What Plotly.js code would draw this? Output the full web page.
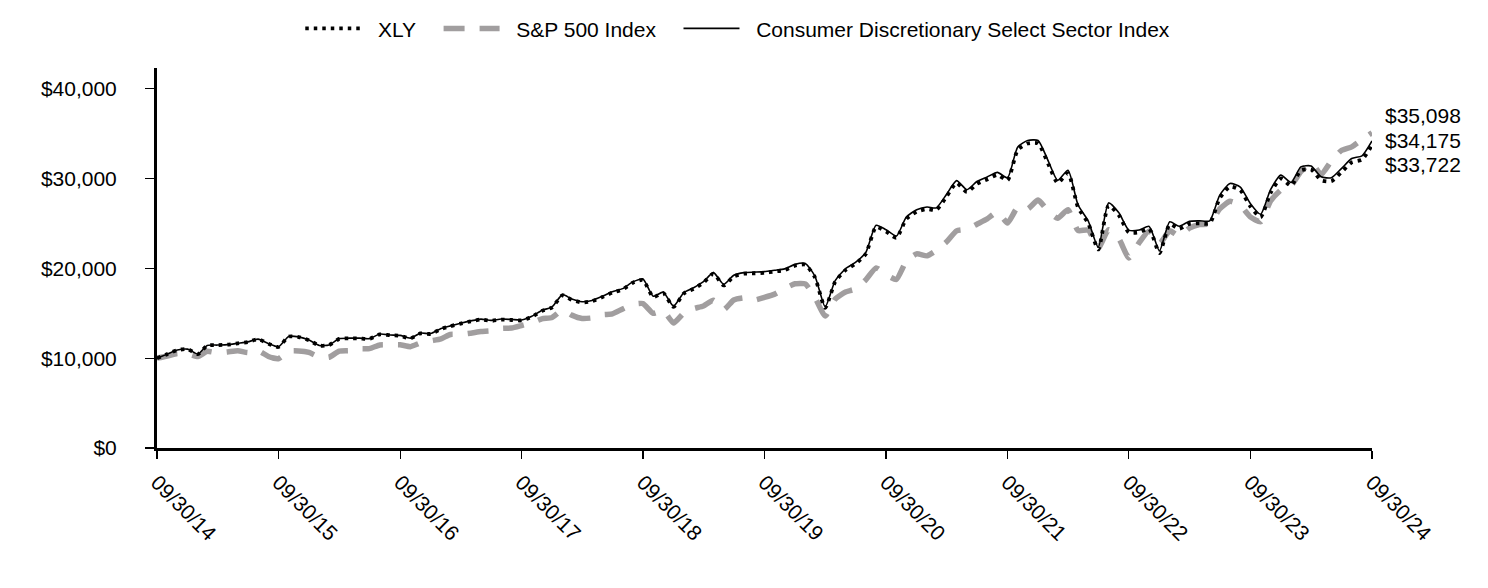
<!DOCTYPE html>
<html>
<head>
<meta charset="utf-8">
<script src="https://cdn.plot.ly/plotly-3.0.1.min.js"></script>
<style>html,body{margin:0;padding:0;background:#fff;}#chart{width:1488px;height:588px;}</style>
</head>
<body>
<div id="chart"></div>
<script>
// Month-end dates from 09/30/2014 to 09/30/2024 (121 monthly observations)
const startYear = 2014, startMonth = 9, monthCount = 121;

const tickDates = ["2014-09-30","2015-09-30","2016-09-30","2017-09-30","2018-09-30","2019-09-30","2020-09-30","2021-09-30","2022-09-30","2023-09-30","2024-09-30"];
const tickLabels = ["09/30/14","09/30/15","09/30/16","09/30/17","09/30/18","09/30/19","09/30/20","09/30/21","09/30/22","09/30/23","09/30/24"];

const seriesNames = ["XLY", "S&P 500 Index", "Consumer Discretionary Select Sector Index"];

const xlyValues = [
10000,10450,10900,11000,10450,11400,11450,11500,11650,11800,12100,11600,
11250,12400,12350,12000,11400,11450,12150,12200,12200,12150,12650,12550,
12500,12200,12750,12700,13250,13550,13850,14100,14300,14150,14300,14250,
14200,14600,15250,15650,17000,16500,16200,16350,16800,17300,17650,18400,
18700,16800,17250,15700,17200,17700,18400,19400,18100,19100,19400,19450,
19500,19650,19800,20300,20400,19000,15600,18500,19800,20500,21600,24600,
24100,23400,25500,26300,26600,26500,28000,29500,28500,29400,29900,30400,
29800,33200,33900,33900,31600,29500,30600,26800,25000,22100,27000,25900,
24000,24000,24400,21700,24900,24400,24950,25000,25000,27800,29100,28700,
26900,25700,28400,30000,29200,30900,31000,29800,29700,30700,31800,32100,
33722];

const spxValues = [
10000,10244,10520,10490,10180,10760,10590,10690,10830,10620,10840,10190,
9940,10780,10810,10640,10110,10100,10780,10830,11040,11060,11470,11490,
11490,11280,11700,11930,12150,12640,12650,12780,12960,13040,13310,13350,
13630,13950,14380,14530,15360,14790,14420,14480,14830,14920,15480,15990,
16080,14990,15290,13910,15030,15510,15810,16450,15400,16480,16720,16450,
16760,17130,17750,18280,18270,16770,14690,16570,17370,17710,18710,20050,
19290,18770,20820,21610,21390,21990,22950,24170,24340,24910,25500,26280,
25050,26800,26610,27600,26360,25570,26520,24210,24260,22250,24300,23300,
21160,22870,24150,22750,24180,23600,24470,24860,24960,26610,27460,27020,
25730,25190,27490,28720,29210,30760,31750,30450,31970,33120,33520,34320,
35098];

const sectorIndexValues = [
10000,10450,10902,11004,10455,11406,11458,11509,11660,11812,12114,11614,
11265,12418,12369,12020,11420,11472,12174,12226,12227,12179,12681,12582,
12534,12234,12787,12738,13292,13594,13897,14149,14351,14202,14354,14306,
14257,14660,15315,15718,17076,16576,16276,16429,16883,17387,17741,18497,
18801,16892,17347,15790,17300,17805,18511,19520,18214,19222,19526,19578,
19631,19784,19938,20443,20546,19138,15715,18639,19951,20658,21769,24796,
24294,23591,25711,26521,26826,26729,28245,29761,28755,29667,30175,30683,
30080,33516,34227,34230,31911,29794,30908,27073,25258,22330,27284,26176,
24258,24261,24668,21941,25179,24676,25235,25288,25291,28127,29445,29044,
27225,26014,28750,30373,29566,31291,31396,30184,30086,31102,32220,32528,
34175];

function monthEnd(y, m) { // m: 1..12
  const d = new Date(Date.UTC(y, m, 0));
  return d.toISOString().slice(0, 10);
}
const dates = [];
for (let i = 0; i < monthCount; i++) {
  const t = (startMonth - 1) + i;
  dates.push(monthEnd(startYear + Math.floor(t / 12), (t % 12) + 1));
}

const FONT = "Liberation Sans, Arial, Helvetica, sans-serif";
const fmt = v => "$" + v.toLocaleString("en-US");
const NB = "\u00A0";
const pad = (s, trail) => NB + NB + s + (trail ? NB + NB + NB : "");

const traces = [
  {x: dates, y: spxValues, name: pad(seriesNames[1], true), type: "scatter", mode: "lines",
   line: {color: "#A19E9F", width: 5.5, dash: "21px,15px", shape: "spline", smoothing: 0.5},
   legendrank: 2},
  {x: dates, y: sectorIndexValues, name: pad(seriesNames[2], false), type: "scatter", mode: "lines",
   line: {color: "#000000", width: 1.6, shape: "spline", smoothing: 0.6},
   legendrank: 3},
  {x: dates, y: xlyValues, name: pad(seriesNames[0], true), type: "scatter", mode: "lines",
   line: {color: "#000000", width: 3.8, dash: "3.5px,5px", shape: "spline", smoothing: 0.6},
   legendrank: 1}
];

const endVals = [spxValues[spxValues.length-1], sectorIndexValues[sectorIndexValues.length-1], xlyValues[xlyValues.length-1]];
const labelY = [0.874, 0.8105, 0.746];
const annotations = endVals.map((v, i) => ({
  xref: "paper", yref: "paper", x: 1, y: labelY[i], xshift: 11,
  xanchor: "left", yanchor: "middle", showarrow: false,
  text: fmt(v), font: {family: FONT, size: 21, color: "#000"}
}));

const layout = {
  width: 1488, height: 588,
  margin: {l: 157, r: 116, t: 68, b: 140},
  paper_bgcolor: "#fff", plot_bgcolor: "#fff",
  font: {family: FONT, size: 21, color: "#000"},
  showlegend: true,
  legend: {orientation: "h", x: 0.478, xanchor: "center", yref: "container", y: 0.986, yanchor: "top",
           font: {family: FONT, size: 21, color: "#000"}, itemwidth: 56, traceorder: "normal",
           tracegroupgap: 0},
  xaxis: {
    type: "date", range: ["2014-09-30", "2024-09-30"],
    tickvals: tickDates, ticktext: tickLabels, tickangle: 45,
    showgrid: false, zeroline: false,
    showline: true, linecolor: "#000", linewidth: 3,
    ticks: "outside", ticklen: 8, tickwidth: 1.2, tickcolor: "#000",
    ticklabelstandoff: 3,
    tickfont: {family: FONT, size: 21, color: "#000"}
  },
  yaxis: {
    range: [0, 42300], tickvals: [0, 10000, 20000, 30000, 40000],
    tickformat: "$,.0f",
    showgrid: false, zeroline: false,
    showline: true, linecolor: "#000", linewidth: 3,
    ticks: "outside", ticklen: 9, tickwidth: 1.2, tickcolor: "#000",
    ticklabelstandoff: 24,
    tickfont: {family: FONT, size: 21, color: "#000"}
  },
  annotations: annotations
};

Plotly.newPlot("chart", traces, layout, {displayModeBar: false, staticPlot: true});
</script>
</body>
</html>
